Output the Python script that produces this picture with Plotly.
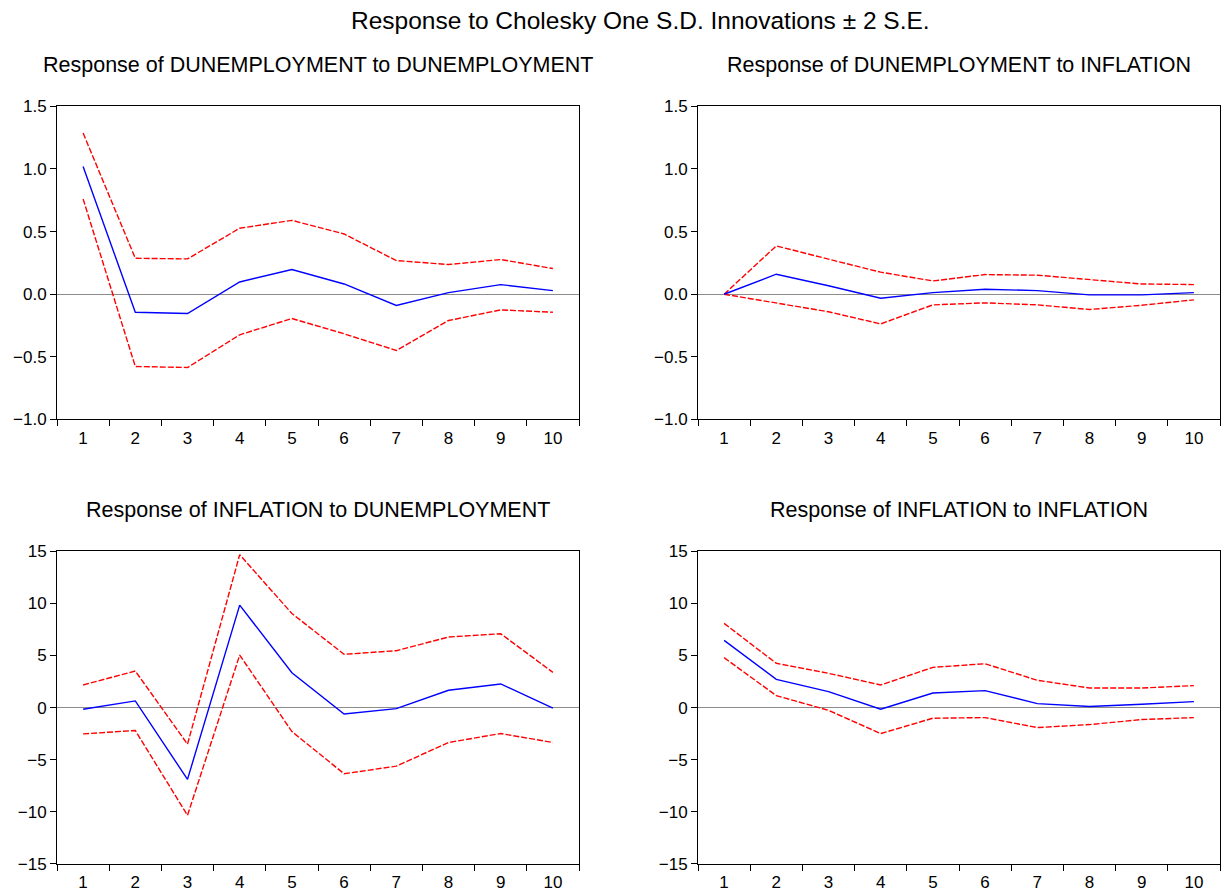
import plotly.graph_objects as go

periods = list(range(1, 11))
tick_labels = [str(p) for p in periods]

# Response of DUNEMPLOYMENT to DUNEMPLOYMENT
du_du = [1.02, -0.144, -0.154, 0.098, 0.197, 0.082, -0.090, 0.013, 0.077, 0.029]
du_du_hi = [1.287, 0.287, 0.282, 0.527, 0.590, 0.481, 0.269, 0.237, 0.277, 0.205]
du_du_lo = [0.761, -0.577, -0.585, -0.324, -0.194, -0.316, -0.449, -0.210, -0.125, -0.144]

# Response of DUNEMPLOYMENT to INFLATION
du_inf = [0.0, 0.160, 0.068, -0.032, 0.013, 0.040, 0.029, -0.005, -0.005, 0.013]
du_inf_hi = [0.0, 0.386, 0.280, 0.176, 0.106, 0.157, 0.152, 0.114, 0.082, 0.077]
du_inf_lo = [0.0, -0.072, -0.140, -0.237, -0.085, -0.069, -0.085, -0.122, -0.088, -0.045]

# Response of INFLATION to DUNEMPLOYMENT
inf_du = [-0.16, 0.64, -6.89, 9.83, 3.35, -0.61, -0.10, 1.66, 2.27, -0.06]
inf_du_hi = [2.17, 3.51, -3.51, 14.68, 9.03, 5.11, 5.46, 6.77, 7.09, 3.38]
inf_du_lo = [-2.52, -2.20, -10.34, 5.04, -2.30, -6.35, -5.62, -3.35, -2.49, -3.35]

# Response of INFLATION to INFLATION
inf_inf = [6.45, 2.71, 1.53, -0.16, 1.40, 1.63, 0.38, 0.10, 0.32, 0.57]
inf_inf_hi = [8.08, 4.25, 3.29, 2.17, 3.86, 4.21, 2.62, 1.88, 1.88, 2.11]
inf_inf_lo = [4.79, 1.15, -0.26, -2.49, -1.02, -0.96, -1.92, -1.63, -1.15, -0.96]

main_title = "Response to Cholesky One S.D. Innovations \u00b1 2 S.E."
panel_titles = [
    "Response of DUNEMPLOYMENT to DUNEMPLOYMENT",
    "Response of DUNEMPLOYMENT to INFLATION",
    "Response of INFLATION to DUNEMPLOYMENT",
    "Response of INFLATION to INFLATION",
]

W, H = 1222, 893
YOFF, YSCALE = 8, 0.98  # observed placement of the graph inside the captured page
FONT = "Liberation Sans, Arial, sans-serif"

# target pixel boxes of panels on the page (left, right, top, bottom)
boxes = [
    (57, 579, 105.5, 419),
    (698, 1220, 105.5, 419),
    (57, 579, 551, 864),
    (698, 1220, 551, 864),
]
yranges = [(-1.0, 1.5), (-1.0, 1.5), (-15, 15), (-15, 15)]
ytickvals = [
    [-1.0, -0.5, 0.0, 0.5, 1.0, 1.5],
    [-1.0, -0.5, 0.0, 0.5, 1.0, 1.5],
    [-15, -10, -5, 0, 5, 10, 15],
    [-15, -10, -5, 0, 5, 10, 15],
]
yfmt = [".1f", ".1f", "d", "d"]
series = [
    (du_du, du_du_hi, du_du_lo),
    (du_inf, du_inf_hi, du_inf_lo),
    (inf_du, inf_du_hi, inf_du_lo),
    (inf_inf, inf_inf_hi, inf_inf_lo),
]


def py(v):
    """page pixel y -> paper fraction"""
    return 1 - ((v - YOFF) / YSCALE) / H


fig = go.Figure()
layout = dict(
    width=W, height=H,
    margin=dict(l=0, r=0, t=0, b=0),
    paper_bgcolor="white", plot_bgcolor="white",
    showlegend=False,
    font=dict(family=FONT, size=17, color="black"),
)
annotations = [
    dict(text=main_title, x=640 / W, y=py(20), xref="paper", yref="paper",
         showarrow=False, font=dict(size=24.5, family=FONT, color="black"), xanchor="center", yanchor="middle")
]

for i, (box, yr, tv, fmt, (mid, hi, lo), ttl) in enumerate(
        zip(boxes, yranges, ytickvals, yfmt, series, panel_titles)):
    l, r, t, b = box
    n = "" if i == 0 else str(i + 1)
    xa, ya = "x" + n, "y" + n
    for vals, color, dash in ((hi, "#FF0000", "6px,2px"), (lo, "#FF0000", "6px,2px"), (mid, "#0000FF", "solid")):
        fig.add_trace(go.Scatter(x=periods, y=vals, mode="lines", xaxis=xa, yaxis=ya,
                                 line=dict(color=color, width=1.4, dash=dash), hoverinfo="skip"))
    layout["xaxis" + n] = dict(
        domain=[l / W, r / W], anchor=ya, range=[0.5, 10.5],
        tickmode="array", tickvals=periods, ticktext=tick_labels, ticks="",
        showline=True, linecolor="black", linewidth=1, mirror=True,
        showgrid=False, zeroline=False, fixedrange=True,
        tickfont=dict(size=17, family=FONT, color="black"),
        ticklabelstandoff=3,
        minor=dict(tickmode="array", tickvals=[k + 0.5 for k in range(0, 11)],
                   ticks="outside", ticklen=6, tickcolor="black", tickwidth=1, showgrid=False),
    )
    layout["yaxis" + n] = dict(
        domain=[py(b), py(t)], anchor=xa, range=list(yr),
        tickmode="array", tickvals=tv, tickformat=fmt, ticks="outside", ticklen=6,
        tickcolor="black", tickwidth=1,
        showline=True, linecolor="black", linewidth=1, mirror=True,
        showgrid=False, zeroline=True, zerolinecolor="#8c8c8c", zerolinewidth=1,
        fixedrange=True, tickfont=dict(size=17, family=FONT, color="black"),
    )
    ty = 64 if i < 2 else 510
    annotations.append(dict(text=ttl, x=(l + r) / 2 / W, y=py(ty), xref="paper", yref="paper",
                            showarrow=False, xanchor="center", yanchor="middle",
                            font=dict(size=21.5, family=FONT, color="black")))

layout["annotations"] = annotations
fig.update_layout(**layout)
fig.write_html(
    "out.html",
    config={"displayModeBar": False},
    post_script="document.body.style.margin='0';document.body.style.overflow='hidden';",
)
